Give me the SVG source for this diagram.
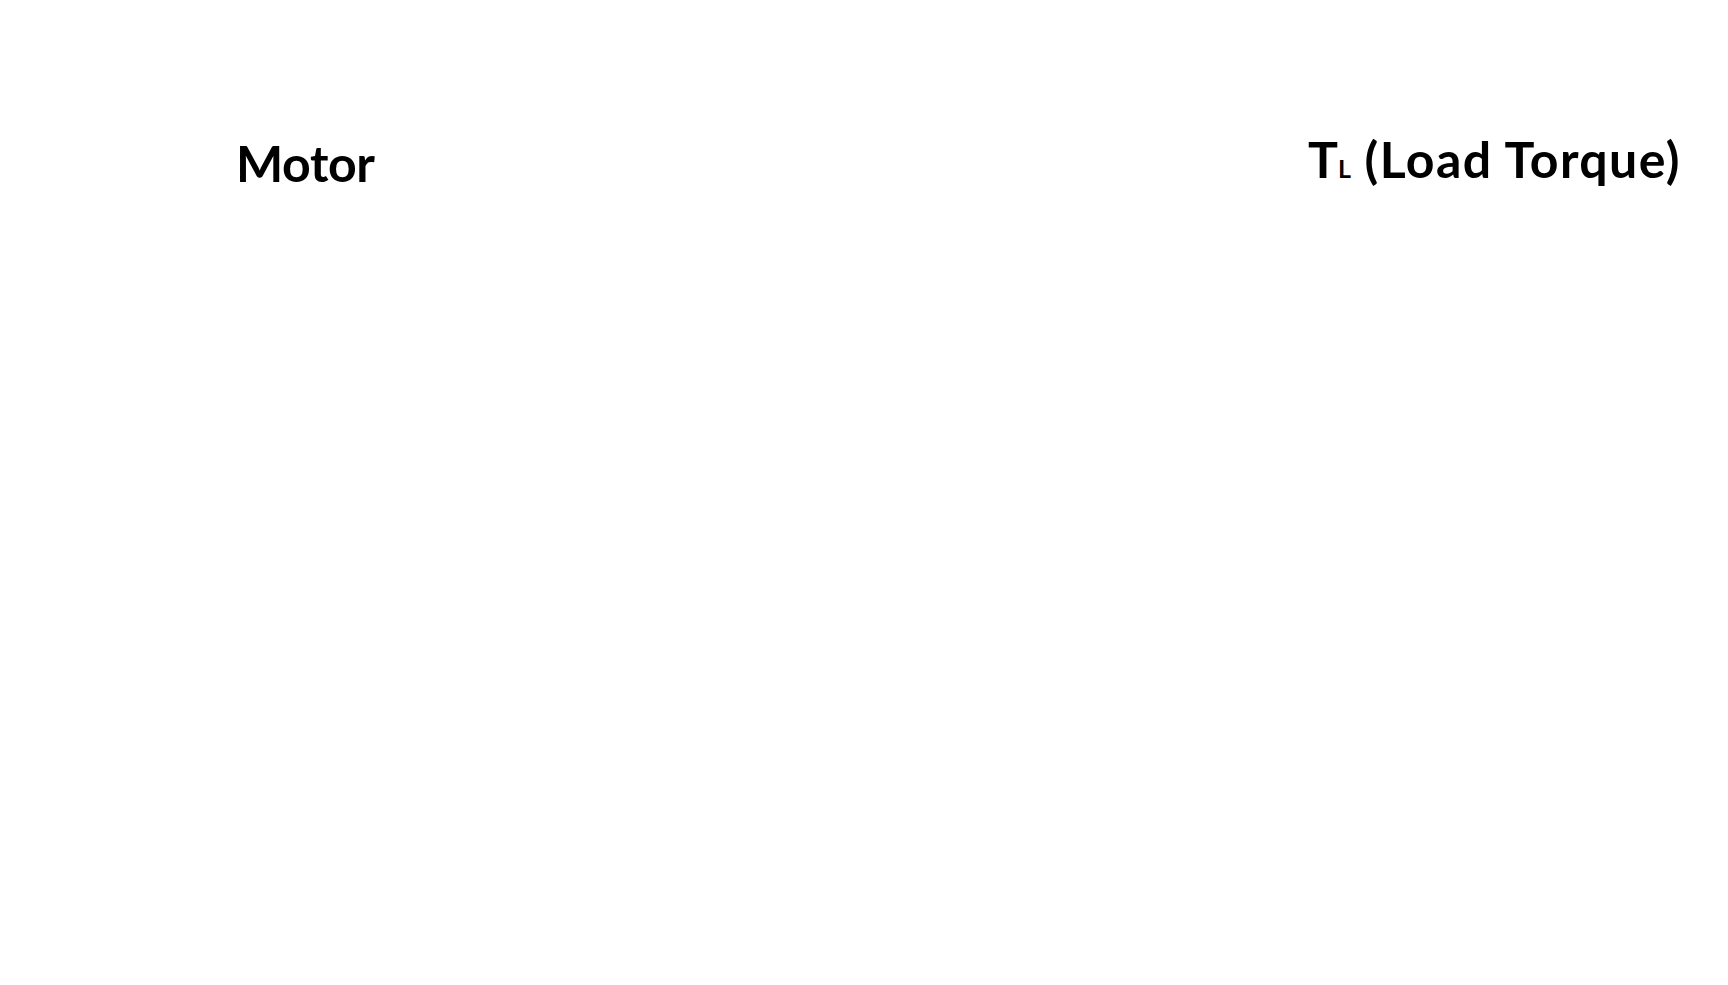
<svg xmlns="http://www.w3.org/2000/svg" width="1728" height="985" viewBox="0 0 1728 985">
<style>
.lbl{font-family:Lato,"Noto Sans","DejaVu Sans",sans-serif;font-weight:700;fill:#000;}
</style>
<rect width="1728" height="985" fill="#fff"/>
<g id="motor">
<text class="lbl" x="236" y="182" font-size="50" letter-spacing="-0.4">Motor</text>
</g>
<g id="load-torque">
<text class="lbl" x="1308" y="178" font-size="50">T<tspan font-size="25">L</tspan><tspan letter-spacing="1.4"> (Load Torque)</tspan></text>
</g>
<g id="connectors"></g>
</svg>
